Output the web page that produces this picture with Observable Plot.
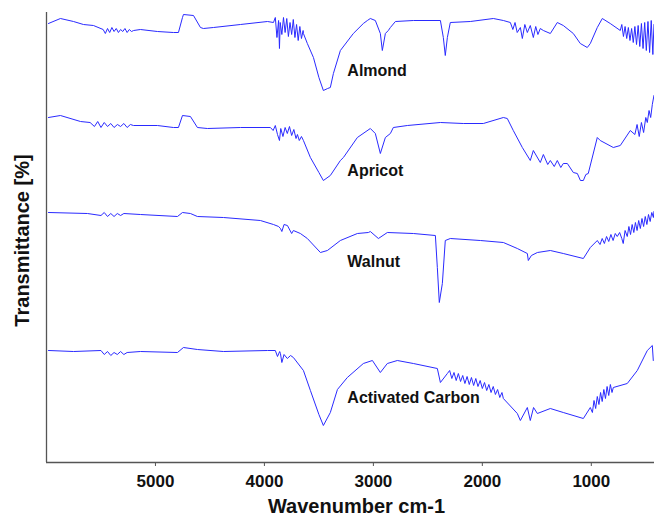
<!DOCTYPE html>
<html>
<head>
<meta charset="utf-8">
<script src="https://cdn.jsdelivr.net/npm/d3@7"></script>
<script src="https://cdn.jsdelivr.net/npm/@observablehq/plot@0.6"></script>
<style>
  html, body { margin: 0; padding: 0; background: #fff; }
  #chart { width: 654px; height: 517px; }
</style>
</head>
<body>
<div id="chart"></div>
<script>
// [wavenumber cm-1, transmittance (offset, arbitrary units)]
const almond = [
  [5982,439],[5872,444],[5752,441],[5661,438],[5569,437],
  [5480,433],[5460,429],[5440,434],[5420,430],[5400,435],[5380,431],[5360,434],[5340,430],[5320,433],[5300,431],[5280,434],[5260,430],[5240,433],[5220,431],[5200,432],
  [5138,433],[4982,431],[4835,430],[4789,430],[4752,445],[4743,448],[4651,447],[4587,435],[4560,434],[4468,435],[4220,438],[3972,441],[3917,440],
  [3900,445],[3885,425],[3870,442],[3862,414],[3855,440],[3840,428],[3825,445],[3810,430],[3795,444],[3780,426],[3765,440],[3750,428],[3735,443],[3720,425],[3705,438],[3690,422],[3675,436],[3660,424],[3645,432],
  [3642,429],[3606,419],[3550,405],[3500,385],[3459,372],[3420,374],[3395,375],[3367,389],[3303,412],[3184,429],[3092,439],[3055,442],[3028,444],[2982,442],
  [2936,429],[2918,412],[2890,429],[2863,432],[2844,435],[2798,441],[2633,442],[2385,442],[2358,425],[2340,407],[2321,425],[2294,440],[2110,441],[1899,444],[1807,442],[1743,440],
  [1720,433],[1700,440],[1680,430],[1651,435],[1633,424],[1610,438],[1587,430],[1560,437],[1532,425],[1510,436],[1490,428],[1468,434],[1440,432],
  [1376,429],[1312,440],[1257,437],[1165,429],[1101,419],[1037,415],[1009,419],[945,435],[899,444],[826,439],[734,432],
  [720,438],[705,426],[690,436],[675,424],[660,435],[645,422],[630,434],[615,420],[600,436],[585,418],[570,437],[555,416],[540,439],[525,414],[510,440],[495,412],[480,441],[465,410],[450,442],[435,408],[425,438]
];
const apricot = [
  [5982,345],[5872,347],[5688,341],
  [5600,340],[5560,336],[5530,341],[5500,335],[5470,340],[5440,336],[5410,339],[5380,335],[5349,338],[5320,336],[5290,339],[5260,335],[5230,338],[5202,337],
  [4982,337],[4835,335],[4789,335],[4752,347],[4679,346],[4615,335],[4523,334],[4220,335],[3945,335],
  [3920,332],[3900,337],[3880,328],[3862,322],[3850,334],[3830,326],[3810,335],[3790,329],[3770,336],[3750,327],[3730,333],[3710,324],[3697,328],[3680,322],[3660,326],
  [3642,322],[3578,305],[3500,290],[3459,282],[3395,287],[3303,302],[3275,305],[3147,325],[3028,334],[2982,329],[2936,309],[2890,325],[2844,329],[2817,335],[2688,337],
  [2385,340],[2175,339],[1991,339],[1807,345],[1771,344],[1716,332],[1633,315],[1560,302],[1532,312],[1468,300],
  [1440,308],[1400,298],[1376,302],[1340,296],[1312,302],[1280,295],[1257,299],[1220,299],[1165,290],[1128,289],[1100,282],[1073,282],[1050,288],[1028,289],
  [945,325],[918,322],[798,315],[734,317],[642,332],
  [600,328],[580,338],[560,326],[540,340],[520,330],[500,345],[486,340],[470,352],[455,345],[440,358],[425,367]
];
const walnut = [
  [5982,250],[5624,249],
  [5500,247],[5470,250],[5440,246],[5410,249],[5380,246],[5350,249],[5320,247],[5290,249],
  [5138,248],[4798,246],[4752,250],[4679,249],[4615,246],[4376,245],[4037,242],[3917,238],
  [3870,236],[3853,234],[3840,231],[3820,238],[3789,237],[3750,229],[3734,232],[3670,229],
  [3606,224],[3486,210],[3422,212],[3303,222],[3147,229],[3046,230],[3028,231],[2954,224],[2872,230],[2633,229],
  [2431,227],[2413,195],[2395,160],[2367,179],[2340,222],[2294,224],[2018,222],[1807,220],[1679,214],[1587,209],[1578,202],[1550,207],
  [1495,210],[1376,212],[1257,209],[1073,204],[1009,215],
  [945,222],[920,218],[900,224],[880,219],[860,226],[840,221],[820,228],[800,222],[780,229],[762,226],[740,230],[720,224],[707,219],
  [690,232],[670,226],[655,236],[640,228],[625,238],[610,230],[595,240],[580,232],[565,242],[550,234],[535,244],[520,236],[505,246],[490,238],[475,248],[460,241],[445,250],[430,245],[425,251]
];
const activatedCarbon = [
  [5982,112],[5752,111],
  [5500,112],[5470,108],[5440,111],[5410,107],[5380,110],[5350,108],[5320,111],[5290,108],[5260,110],
  [5138,111],[4798,110],[4743,115],[4615,113],[4376,111],[3972,112],
  [3900,112],[3880,106],[3860,111],[3853,109],[3840,100],[3820,108],[3790,104],[3760,107],[3734,105],
  [3642,92],[3578,72],[3500,48],[3459,37],[3395,50],[3330,73],[3239,85],[3092,99],[3009,102],[2936,90],[2872,99],[2780,102],[2633,99],
  [2413,94],[2385,80],[2321,89],
  [2300,92],[2280,84],[2260,90],[2240,82],[2220,89],[2200,81],[2180,87],[2160,79],[2140,86],[2120,78],[2100,85],[2080,77],[2060,84],[2040,76],[2020,82],[2000,74],
  [1980,80],[1960,72],[1940,78],[1920,70],[1900,76],[1880,68],[1860,73],[1840,65],[1820,70],[1807,64],
  [1679,49],[1651,42],[1587,55],[1560,42],[1530,55],[1495,49],[1376,54],[1257,50],[1073,44],[1009,55],
  [990,50],[975,62],[960,54],[945,66],[930,58],[915,70],[900,61],[885,73],[870,64],[855,76],[840,67],[825,78],[810,70],[798,75],
  [670,79],[578,92],[486,112],[440,117],[431,102]
];

const sampleNames = ["Almond", "Apricot", "Walnut", "Activated Carbon"];
const seriesList = [almond, apricot, walnut, activatedCarbon];
// label anchors [wavenumber, transmittance]
const labelAnchors = [[3239,392],[3239,292],[3239,201],[3239,65]];
const xTicks = [5000, 4000, 3000, 2000, 1000];

const rows = seriesList.flatMap((s, i) => s.map(([w, t]) => ({sample: sampleNames[i], w, t})));
const labels = sampleNames.map((name, i) => ({name, w: labelAnchors[i][0], t: labelAnchors[i][1]}));

const chart = Plot.plot({
  width: 654,
  height: 517,
  marginLeft: 46,
  marginRight: 0,
  marginTop: 12,
  marginBottom: 55,
  style: {fontFamily: "Liberation Sans, Arial, sans-serif", background: "#fff"},
  x: {domain: [6000, 420], ticks: xTicks, tickFormat: d => String(d)},
  y: {domain: [0, 450], axis: null},
  marks: [
    Plot.lineY(rows, {x: "w", y: "t", z: "sample", stroke: "#2a2aff", strokeWidth: 1}),
    Plot.text(labels, {x: "w", y: "t", text: "name", textAnchor: "start", fontSize: 16, fontWeight: "bold", fill: "#111"}),
    Plot.ruleY([0], {stroke: "#555", strokeWidth: 1.3}),
    Plot.ruleX([6000], {stroke: "#555", strokeWidth: 1.3}),
    Plot.axisX(xTicks, {tickSize: 4, tickPadding: 8, fontSize: 17, fontWeight: "bold", stroke: "#555", fill: "#111", label: null, tickFormat: d => String(d)}),
    Plot.text(["Wavenumber cm-1"], {frameAnchor: "bottom", textAnchor: "middle", lineAnchor: "middle", dx: 6, dy: 44, fontSize: 20, fontWeight: "bold", fill: "#111"}),
    Plot.text(["Transmittance [%]"], {frameAnchor: "left", textAnchor: "middle", rotate: -90, dx: -24, dy: 3, fontSize: 20, fontWeight: "bold", fill: "#111"})
  ]
});
document.getElementById("chart").appendChild(chart);
</script>
</body>
</html>
